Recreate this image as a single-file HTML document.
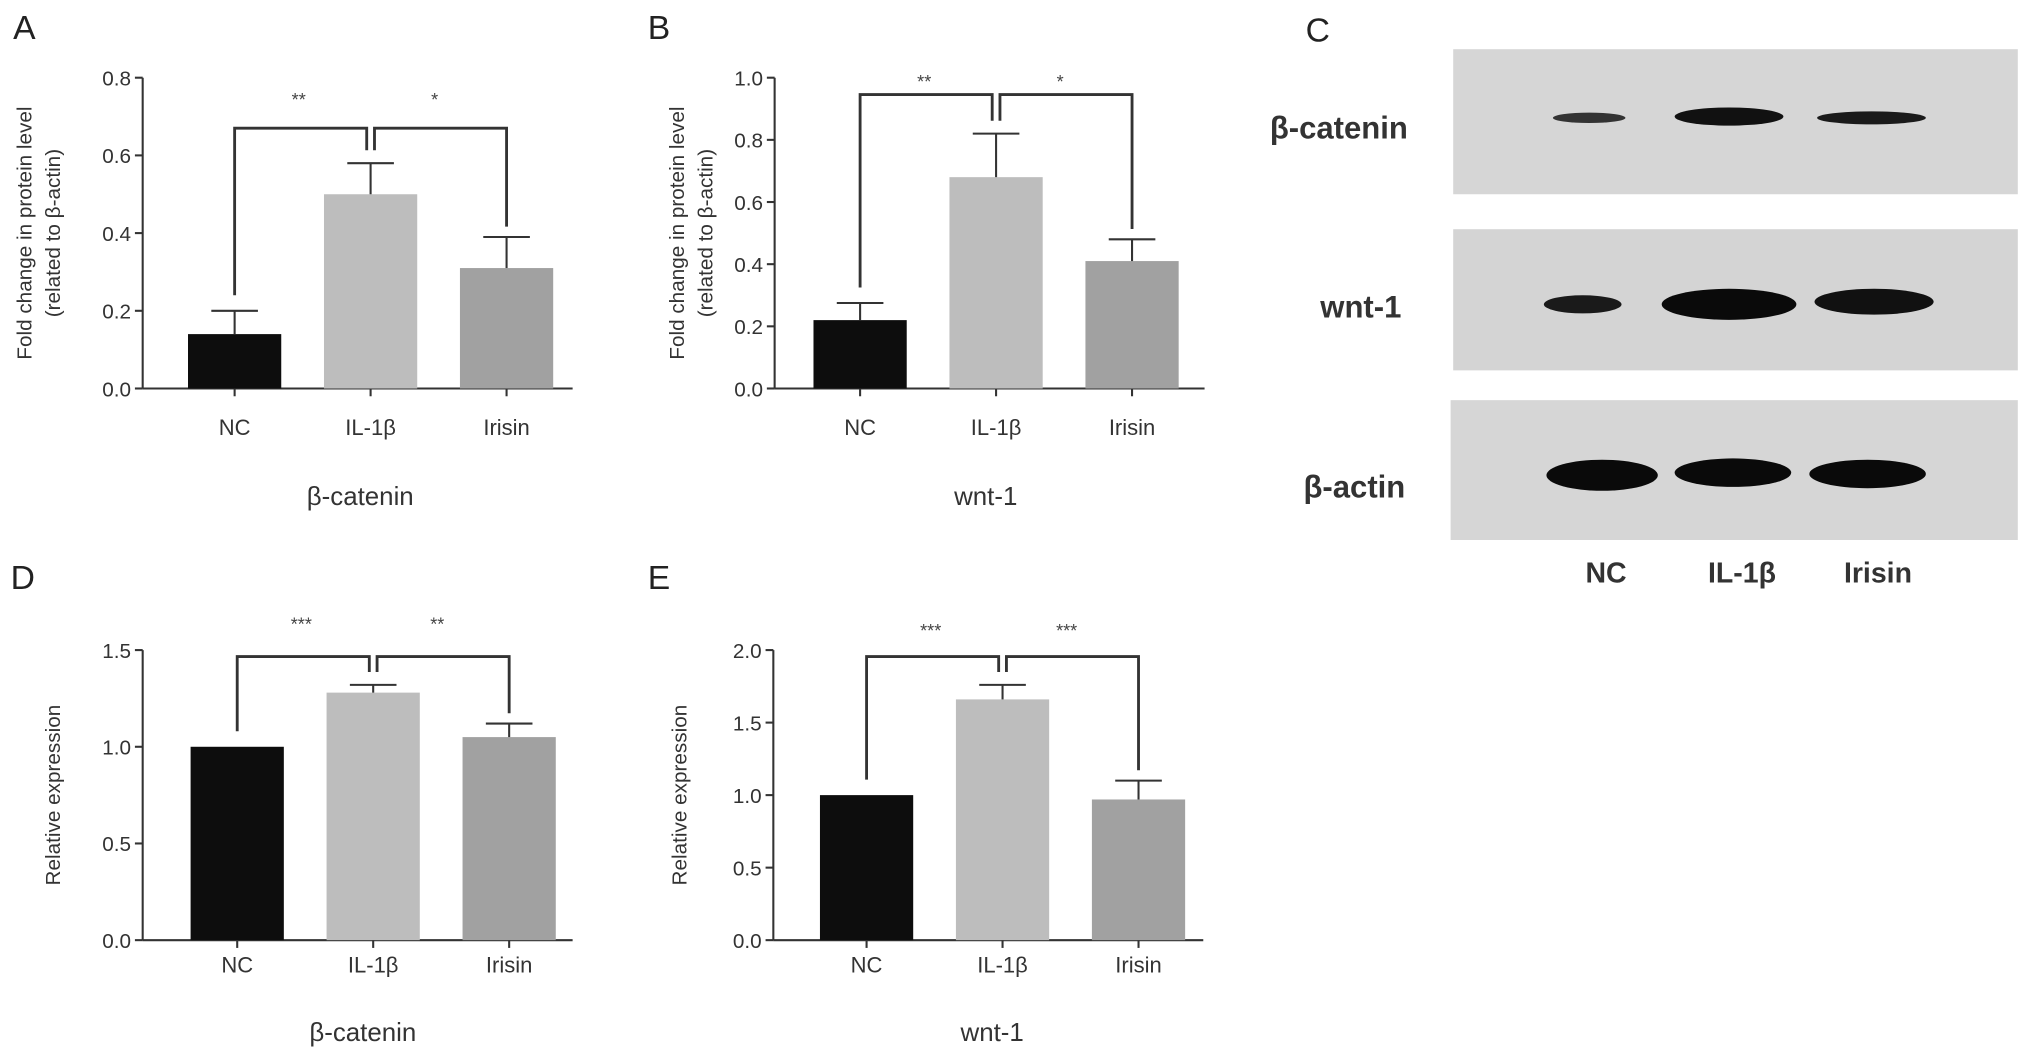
<!DOCTYPE html>
<html><head><meta charset="utf-8"><style>
html,body{margin:0;padding:0;background:#fff;}
svg{display:block;font-family:"Liberation Sans",Arial,sans-serif;}
</style></head><body>
<svg id="fig" width="2031" height="1058" viewBox="0 0 1568 817" xmlns="http://www.w3.org/2000/svg">
<g id="blots">
 <text x="1008" y="32" font-size="26" fill="#222">C</text>
 <rect x="1122" y="38" width="436" height="112" fill="#d6d6d6"/>
 <rect x="1122" y="177" width="436" height="109" fill="#d4d4d4"/>
 <rect x="1120" y="309" width="438" height="108" fill="#d6d6d6"/>
 <ellipse cx="1227" cy="91" rx="28" ry="4" fill="#333"/>
 <ellipse cx="1335" cy="90" rx="42" ry="7" fill="#111"/>
 <ellipse cx="1445" cy="91" rx="42" ry="5" fill="#1a1a1a"/>
 <ellipse cx="1222" cy="235" rx="30" ry="7" fill="#1a1a1a"/>
 <ellipse cx="1335" cy="235" rx="52" ry="12" fill="#0a0a0a"/>
 <ellipse cx="1447" cy="233" rx="46" ry="10" fill="#111"/>
 <ellipse cx="1237" cy="367" rx="43" ry="12" fill="#0a0a0a"/>
 <ellipse cx="1338" cy="365" rx="45" ry="11" fill="#0a0a0a"/>
 <ellipse cx="1442" cy="366" rx="45" ry="11" fill="#0a0a0a"/>
 <text x="1087" y="107" font-size="24" font-weight="bold" text-anchor="end" fill="#333">β-catenin</text>
 <text x="1082" y="245" font-size="24" font-weight="bold" text-anchor="end" fill="#333">wnt-1</text>
 <text x="1085" y="384" font-size="24" font-weight="bold" text-anchor="end" fill="#333">β-actin</text>
 <text x="1240" y="450" font-size="22" font-weight="bold" text-anchor="middle" fill="#333">NC</text>
 <text x="1345" y="450" font-size="22" font-weight="bold" text-anchor="middle" fill="#333">IL-1β</text>
 <text x="1450" y="450" font-size="22" font-weight="bold" text-anchor="middle" fill="#333">Irisin</text>
</g>
</svg>
<script>
const categories = ["NC","IL-1β","Irisin"];
const valuesA = [0.14,0.50,0.31];
const errorsA = [0.06,0.08,0.08];
const ticksA = ["0.0","0.2","0.4","0.6","0.8"];
const valuesB = [0.22,0.68,0.41];
const errorsB = [0.055,0.14,0.07];
const ticksB = ["0.0","0.2","0.4","0.6","0.8","1.0"];
const valuesD = [1.0,1.28,1.05];
const errorsD = [0.0,0.04,0.07];
const ticksD = ["0.0","0.5","1.0","1.5"];
const valuesE = [1.0,1.66,0.97];
const errorsE = [0.0,0.10,0.13];
const ticksE = ["0.0","0.5","1.0","1.5","2.0"];
const starsA = ["**","*"], starsB = ["**","*"], starsD = ["***","**"], starsE = ["***","***"];
const colors = ["#0d0d0d","#bdbdbd","#a1a1a1"];
const NS = "http://www.w3.org/2000/svg";
const svg = document.getElementById('fig');
function mk(tag, attrs, parent, txt){
  const e = document.createElementNS(NS, tag);
  for (const k in attrs) e.setAttribute(k, attrs[k]);
  if (txt !== undefined) e.textContent = txt;
  parent.appendChild(e);
  return e;
}
function panel(cfg){
  const g = mk('g', {}, svg);
  
  
  const ymax = parseFloat(cfg.ticks[cfg.ticks.length-1]);
  const yS = v => cfg.y0 - (v / ymax) * (cfg.y0 - cfg.y1);
  const lbl = mk('text', {x: cfg.lx, y: cfg.ly, 'font-size': 26, fill: '#222'}, g, cfg.id.toUpperCase());
  
  
  const ax = mk('line', {x1: cfg.ax, y1: cfg.y1, x2: cfg.ax, y2: cfg.y0, stroke: '#333', 'stroke-width': 1.6}, g);
  
  
  const xa = mk('line', {x1: cfg.ax, y1: cfg.y0, x2: cfg.ax + 332, y2: cfg.y0, stroke: '#333', 'stroke-width': 1.6}, g);
  
  
  cfg.ticks.forEach(t => {
    const y = yS(parseFloat(t));
    mk('line', {x1: cfg.ax - 6, y1: y, x2: cfg.ax, y2: y, stroke: '#333', 'stroke-width': 1.6}, g);
    const tl = mk('text', {x: cfg.ax - 9, y: y + 6, 'font-size': 16, 'text-anchor': 'end', fill: '#333'}, g, t);
    
    
  });
  const yt = mk('text', {transform: `translate(${cfg.tx},${(cfg.y0 + cfg.y1)/2}) rotate(-90)`, 'font-size': 16, 'text-anchor': 'middle', fill: '#333'}, g);
  
  
  cfg.ytitle.forEach((line, i) => mk('tspan', {x: 0, dy: i === 0 ? 0 : 22}, yt, line));
  const w = 72, gap = 105, first = cfg.ax + cfg.off;
  const centers = [], tops = [];
  categories.forEach((c, i) => {
    const x = first + i * gap, cx = x + w/2;
    centers.push(cx);
    const v = cfg.values[i], e = cfg.errors[i];
    const b = mk('rect', {x: x, y: yS(v), width: w, height: cfg.y0 - yS(v), fill: colors[i]}, g);
    
    
    if (e > 0) {
      mk('line', {x1: cx, y1: yS(v), x2: cx, y2: yS(v + e), stroke: '#333', 'stroke-width': 1.6}, g);
      mk('line', {x1: cx - 18, y1: yS(v + e), x2: cx + 18, y2: yS(v + e), stroke: '#333', 'stroke-width': 1.6}, g);
    }
    tops.push(yS(v + e));
    mk('line', {x1: cx, y1: cfg.y0, x2: cx, y2: cfg.y0 + 6, stroke: '#333', 'stroke-width': 1.6}, g);
    const cl = mk('text', {x: cx, y: cfg.y0 + cfg.cly, 'font-size': 17, 'text-anchor': 'middle', fill: '#333'}, g, c);
    
    
  });
  const by = cfg.by;
  const p1 = `M${centers[0]},${tops[0]-12} L${centers[0]},${by} L${centers[1]-3},${by} L${centers[1]-3},${tops[1]-10}`;
  const p2 = `M${centers[1]+3},${tops[1]-10} L${centers[1]+3},${by} L${centers[2]},${by} L${centers[2]},${tops[2]-8}`;
  const s1 = mk('path', {d: p1, fill: 'none', stroke: '#333', 'stroke-width': 2.2}, g);
  
  
  const s2 = mk('path', {d: p2, fill: 'none', stroke: '#333', 'stroke-width': 2.2}, g);
  
  
  [[centers[0], centers[1]], [centers[1], centers[2]]].forEach((p, i) => {
    const st = mk('text', {x: (p[0] + p[1]) / 2 - 3, y: cfg.sy, 'font-size': 14, 'text-anchor': 'middle', fill: '#444'}, g, cfg.stars[i]);
    
    
  });
  const xt = mk('text', {x: centers[1] - 8, y: cfg.y0 + cfg.xty, 'font-size': 20, 'text-anchor': 'middle', fill: '#333'}, g, cfg.xtitle);
  
  
}
panel({id:'a', lx:10, ly:30, ax:110, y0:300, y1:60, off:35, cly:36, xty:90, sy:82, ticks:ticksA, values:valuesA, errors:errorsA, stars:starsA, by:99, tx:24, ytitle:["Fold change in protein level","(related to β-actin)"], xtitle:"β-catenin"});
panel({id:'b', lx:500, ly:30, ax:598, y0:300, y1:60, off:30, cly:36, xty:90, sy:68, ticks:ticksB, values:valuesB, errors:errorsB, stars:starsB, by:73, tx:528, ytitle:["Fold change in protein level","(related to β-actin)"], xtitle:"wnt-1"});
panel({id:'d', lx:8, ly:455, ax:110, y0:726, y1:502, off:37, cly:25, xty:78, sy:487, ticks:ticksD, values:valuesD, errors:errorsD, stars:starsD, by:507, tx:46, ytitle:["Relative expression"], xtitle:"β-catenin"});
panel({id:'e', lx:500, ly:455, ax:597, y0:726, y1:502, off:36, cly:25, xty:78, sy:492, ticks:ticksE, values:valuesE, errors:errorsE, stars:starsE, by:507, tx:530, ytitle:["Relative expression"], xtitle:"wnt-1"});
</script>
</body></html>
